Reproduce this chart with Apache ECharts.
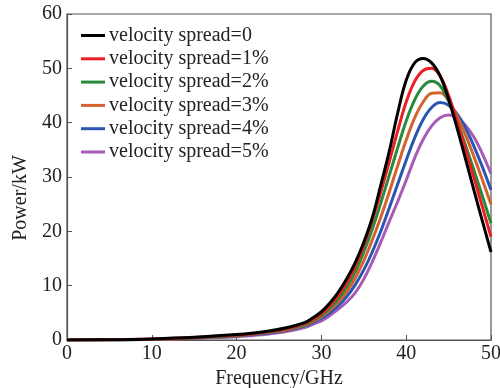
<!DOCTYPE html>
<html>
<head>
<meta charset="utf-8">
<script src="https://cdn.jsdelivr.net/npm/echarts@6/dist/echarts.min.js"></script>
<style>html,body{margin:0;padding:0;background:#fff}#c{width:500px;height:388px}</style>
</head>
<body>
<div id="c"></div>
<script>
const freqs = [0,5,10,15,20,22,24,26,28,29,30,31,32,33,34,35,36,37,38,39,40,41,42,43,44,45,46,47,48,49,50];
const spread0 = [0,0.05,0.2,0.5,1.0,1.3,1.7,2.3,3.2,4.1,5.2,6.8,8.8,11.3,14.3,18,22.5,28.5,34.7,41.8,47.8,51,51.8,51.0,48.6,44.3,39,33.3,27.5,21.8,16.2];
const spread1 = [0,0.05,0.18,0.45,0.9,1.2,1.6,2.1,3.0,3.8,4.8,6.3,8.2,10.6,13.6,17.4,22,27.2,32.8,38.5,43.8,47.6,49.6,50.0,48.6,45,40.2,35,29.8,24.4,19.0];
const spread2 = [0,0.04,0.16,0.42,0.85,1.15,1.5,2.0,2.8,3.6,4.5,5.9,7.6,9.8,12.6,16.2,20.4,25.2,30.3,35.4,40.3,44.2,46.7,47.6,46.8,44.0,40.2,35.8,31.2,26.4,21.5];
const spread3 = [0,0.04,0.15,0.38,0.8,1.1,1.45,1.9,2.7,3.4,4.3,5.5,7.0,8.9,11.4,14.6,18.4,22.6,27.2,32.1,36.8,40.9,43.8,45.4,45.5,44.0,41.2,37.7,33.7,29.4,25];
const spread4 = [0,0.03,0.13,0.35,0.75,1.0,1.35,1.8,2.55,3.2,4.0,5.0,6.3,8.0,10.2,12.9,16.2,20.0,24.3,28.7,33.1,37.2,40.6,42.8,43.7,43.2,41.6,39.0,35.6,31.8,27.6];
const spread5 = [0,0.02,0.1,0.3,0.6,0.85,1.15,1.6,2.3,2.9,3.5,4.5,5.7,7.0,8.7,11.2,14.4,18.0,21.8,25.5,29.4,33.5,36.9,39.4,40.9,41.4,40.9,39.5,37.3,34.2,30.6];
const names = ['velocity spread=0','velocity spread=1%','velocity spread=2%','velocity spread=3%','velocity spread=4%','velocity spread=5%'];
const colors = ['#000000','#ee1d23','#2a8a3c','#d4622c','#2a55b0','#a65bb8'];
const allSeries = [spread0,spread1,spread2,spread3,spread4,spread5];
const xTicks = [0,10,20,30,40,50];
const yTicks = [0,10,20,30,40,50,60];

const FAM = 'Liberation Serif';
const chart = echarts.init(document.getElementById('c'));
chart.setOption({
  animation: false,
  backgroundColor: '#fff',
  textStyle: {fontFamily: FAM},
  grid: {left: 67, right: 9, top: 14, bottom: 48, show: true, borderColor: '#555', borderWidth: 1.2,
         backgroundColor: 'transparent', containLabel: false, outerBoundsMode: 'none'},
  legend: {
    orient: 'vertical', left: 76, top: 20.5, itemWidth: 24, itemHeight: 3, itemGap: 3.3,
    icon: 'rect',
    textStyle: {fontFamily: FAM, fontSize: 20, color: '#222', lineHeight: 20, padding: [0,0,0,-1]},
    data: names
  },
  xAxis: {
    type: 'value', min: xTicks[0], max: xTicks[xTicks.length-1], interval: 10,
    name: 'Frequency/GHz', nameLocation: 'middle', nameGap: 27,
    nameTextStyle: {fontFamily: FAM, fontSize: 20, color: '#222'},
    axisLine: {show: true, lineStyle: {color: '#555', width: 1.2}},
    axisTick: {show: true, inside: true, length: 5, lineStyle: {color: '#555'}},
    axisLabel: {fontFamily: FAM, fontSize: 20, color: '#222', margin: 4},
    splitLine: {show: false}
  },
  yAxis: {
    type: 'value', min: yTicks[0], max: yTicks[yTicks.length-1], interval: 10,
    name: 'Power/kW', nameLocation: 'middle', nameGap: 26, nameRotate: 90,
    nameTextStyle: {fontFamily: FAM, fontSize: 20, color: '#222', padding: [0,0,0,-42]},
    axisLine: {show: true, lineStyle: {color: '#555', width: 1.2}},
    axisTick: {show: true, inside: true, length: 5, lineStyle: {color: '#555'}},
    axisLabel: {fontFamily: FAM, fontSize: 20, color: '#222', margin: 5},
    splitLine: {show: false}
  },
  series: allSeries.map((vals, i) => ({
    name: names[i], type: 'line', smooth: 0.4, showSymbol: false, symbol: 'none',
    color: colors[i],
    lineStyle: {width: 3, color: colors[i]},
    data: freqs.map((f, j) => [f, vals[j]]),
    z: 10 - i
  }))
});
</script>
</body>
</html>
